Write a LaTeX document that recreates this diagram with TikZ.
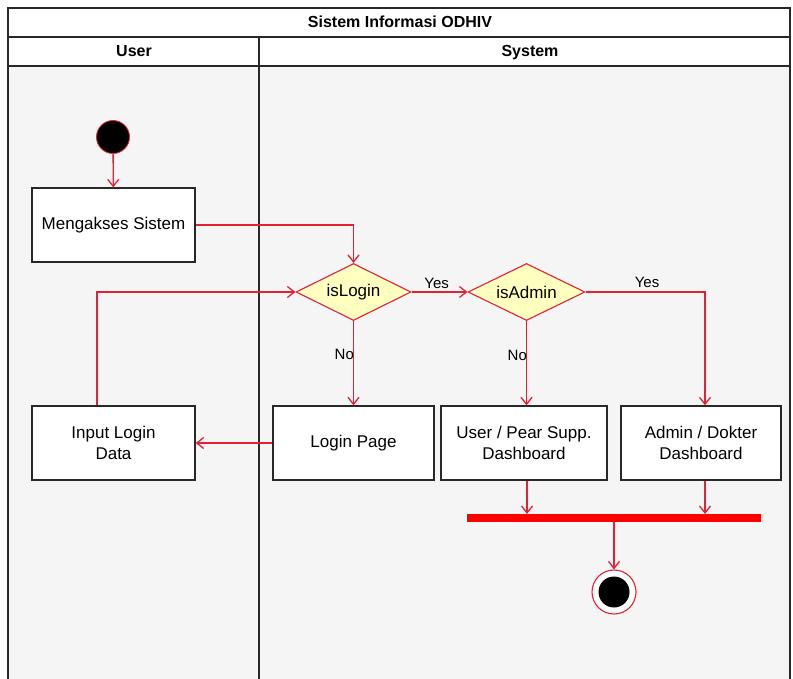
\documentclass[tikz,border=0pt]{standalone}
\usepackage{fontspec}
\setmainfont{Liberation Sans}
\usetikzlibrary{arrows.meta,shapes.geometric}
\definecolor{flow}{RGB}{228,32,52}
\definecolor{lanebg}{RGB}{245,245,245}
\definecolor{decfill}{RGB}{255,255,192}
\definecolor{frame}{RGB}{40,40,40}
\tikzset{
  lane/.style={draw=frame, line width=1.3pt},
  action/.style={draw=frame, line width=1.3pt, fill=white, minimum width=163pt,
    minimum height=74pt, align=center, font=\fontsize{17}{21}\selectfont, inner sep=0pt},
  decision/.style={diamond, draw=flow, line width=1.1pt, fill=decfill, minimum width=115pt,
    minimum height=57pt, inner sep=0pt, aspect=2, font=\fontsize{17}{20}\selectfont},
  flowline/.style={draw=flow, line width=1.3pt, -{Straight Barb[length=7pt,width=11pt]}},
  guard/.style={font=\fontsize{15}{17}\selectfont, inner sep=1pt},
  header/.style={font=\bfseries\fontsize{16}{19}\selectfont, text height=11.5pt, text depth=3pt, inner sep=0pt}
}
\begin{document}
\begin{tikzpicture}[x=1pt,y=-1pt]
\useasboundingbox (0,0) rectangle (793,679);
\fill[white] (0,0) rectangle (793,679);
% swimlane frame
\fill[lanebg] (8,66) rectangle (790,679);
\draw[lane] (8,679) -- (8,8) -- (790,8) -- (790,679);
\draw[lane] (8,37) -- (790,37);
\draw[lane] (8,66) -- (790,66);
\draw[lane] (259,37) -- (259,679);
\node[header] (title) at (400,23.5) {Sistem Informasi ODHIV};
\node[header] (luser) at (134,52.5) {User};
\node[header] (lsys) at (530,52.5) {System};

% start and end
\node[circle, fill=black, draw=flow, line width=0.8pt, minimum size=33pt, inner sep=0pt] (start) at (113,137) {};
\node[circle, draw=flow, fill=white, line width=1.1pt, minimum size=44pt, inner sep=0pt] (final) at (614,592) {};
\node[circle, fill=black, minimum size=31pt, inner sep=0pt] (finalcore) at (614,592) {};

% actions
\node[action] (akses) at (113.5,225) {Mengakses Sistem};
\node[action] (input) at (113.5,443) {Input Login\\Data};
\node[action, minimum width=161pt] (loginpg) at (353.5,443) {Login Page};
\node[action, minimum width=166pt] (userdash) at (524,443) {User / Pear Supp.\\Dashboard};
\node[action, minimum width=160pt] (admindash) at (701,443) {Admin / Dokter\\Dashboard};

% decisions
\node[decision] (islogin) at (353.5,292) {isLogin};
\node[decision, minimum width=117pt] (isadmin) at (526.5,292) {isAdmin};

% join bar
\node[fill=red, minimum width=294pt, minimum height=8pt, inner sep=0pt] (bar) at (614,518) {};
\coordinate (barU) at (527,514);
\coordinate (barA) at (705,514);

% flows
\draw[flowline] (start) -- (akses);
\draw[flowline] (akses.east) -| (islogin.north);
\draw[flowline] (islogin.east) -- node[guard, above, pos=0.45, yshift=2pt] {Yes} (isadmin.west);
\draw[flowline] (isadmin.east) -| node[guard, above, pos=0.5, xshift=-58pt, yshift=3pt] {Yes} (admindash.north -| 705,0);
\draw[flowline] (islogin.south) -- node[guard, pos=0.4, left, xshift=2pt] {No} (loginpg.north -| islogin.south);
\draw[flowline] (isadmin.south) -- node[guard, pos=0.41, left, xshift=2pt] {No} (userdash.north -| isadmin.south);
\draw[flowline] (loginpg.west) -- (input.east);
\draw[flowline] (input.north -| 97,0) |- (islogin.west);
\draw[flowline] (userdash.south -| barU) -- (barU);
\draw[flowline] (admindash.south -| barA) -- (barA);
\draw[flowline] (bar.south) -- (final.north);
\end{tikzpicture}
\end{document}
